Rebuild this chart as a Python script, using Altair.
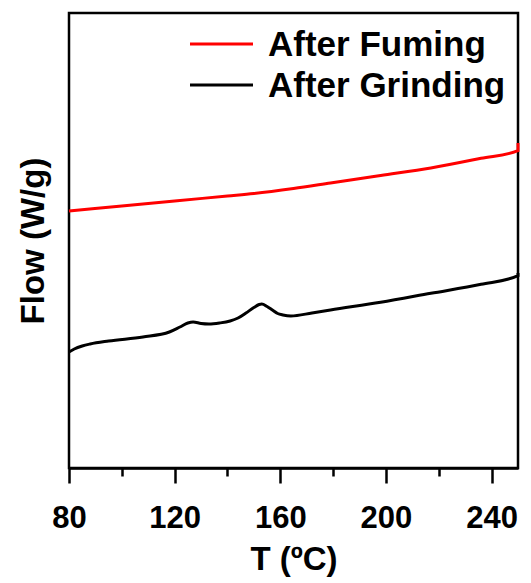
import altair as alt
import pandas as pd

# DSC heat-flow traces (arbitrary units, endo up) vs temperature
t_fuming = [80, 100, 120, 140, 150, 165, 179, 198, 217, 236, 250, 250]
flow_fuming = [2.57, 2.62, 2.67, 2.72, 2.745, 2.795, 2.85, 2.925, 3.0, 3.097, 3.173, 3.25]

t_grinding = [80, 82, 85, 88, 95, 108, 118, 122, 125, 127, 130, 133, 137, 141, 144, 147, 150,
              152, 153, 155, 157, 159, 161, 164, 172, 179, 198, 217, 236, 250, 250]
flow_grinding = [1.16, 1.19, 1.22, 1.24, 1.27, 1.31, 1.36, 1.41, 1.45, 1.46, 1.445, 1.44, 1.45,
                 1.47, 1.50, 1.55, 1.605, 1.635, 1.64, 1.615, 1.58, 1.545, 1.53, 1.52, 1.55,
                 1.58, 1.657, 1.747, 1.837, 1.923, 1.95]

series_names = ["After Fuming", "After Grinding"]
series_colors = ["#ff0000", "#000000"]

major_ticks = [80, 120, 160, 200, 240]
minor_ticks = [100, 140, 180, 220]

FONT = "Liberation Sans"

fuming = pd.DataFrame({"T": t_fuming, "Flow": flow_fuming, "i": range(len(t_fuming))})
grinding = pd.DataFrame({"T": t_grinding, "Flow": flow_grinding, "i": range(len(t_grinding))})

x_scale = alt.Scale(domain=[80, 250], nice=False, zero=False)
y_scale = alt.Scale(domain=[0, 4.55], nice=False, zero=False)

y_axis = alt.Axis(
    title="Flow (W/g)", labels=False, ticks=False, domain=False, grid=False,
    titleFont=FONT, titleFontSize=33, titleFontWeight="bold", titleColor="black",
    titlePadding=19,
)

major_axis = alt.Axis(
    orient="bottom", values=major_ticks, title="T (ºC)", grid=False,
    labelFont=FONT, labelFontSize=31, labelFontWeight="bold", labelColor="black",
    labelPadding=20, tickSize=15, tickWidth=2.5, tickColor="black",
    domainColor="black", domainWidth=2.5,
    titleFont=FONT, titleFontSize=33, titleFontWeight="bold", titleColor="black",
    titlePadding=10, labelFlush=False,
)

minor_axis = alt.Axis(
    orient="bottom", values=minor_ticks, title=None, labels=False, grid=False,
    tickSize=8, tickWidth=2.5, tickColor="black", domain=False,
)

black_line = alt.Chart(grinding).mark_line(
    color=series_colors[1], strokeWidth=3, interpolate="monotone"
).encode(
    x=alt.X("T:Q", scale=x_scale, axis=major_axis),
    y=alt.Y("Flow:Q", scale=y_scale, axis=y_axis),
    order="i:Q",
)

red_line = alt.Chart(fuming).mark_line(
    color=series_colors[0], strokeWidth=3, interpolate="monotone"
).encode(
    x=alt.X("T:Q", scale=x_scale, axis=minor_axis),
    y=alt.Y("Flow:Q", scale=y_scale, axis=y_axis),
    order="i:Q",
)

# Legend drawn in the upper right corner of the frame
legend_layers = []
for k, (name, col) in enumerate(zip(series_names, series_colors)):
    row = pd.DataFrame({"label": [name]})
    yy = 31 + 41 * k
    legend_layers.append(
        alt.Chart(row).mark_rule(color=col, strokeWidth=3).encode(
            x=alt.value(121), x2=alt.value(184), y=alt.value(yy)
        )
    )
    legend_layers.append(
        alt.Chart(row).mark_text(
            align="left", baseline="middle", font=FONT, fontSize=35,
            fontWeight="bold", color="black", dy=1
        ).encode(x=alt.value(199), y=alt.value(yy), text="label:N")
    )

chart = alt.layer(black_line, red_line, *legend_layers).resolve_axis(
    x="independent"
).resolve_scale(x="shared").properties(
    width=449, height=455,
    background="white",
    autosize=alt.AutoSizeParams(type="none"),
    padding={"left": 69, "top": 13, "right": 13, "bottom": 115},
).configure_view(
    stroke="black", strokeWidth=2.5
)

chart.save("out.html", embed_options={"renderer": "svg", "actions": False})
